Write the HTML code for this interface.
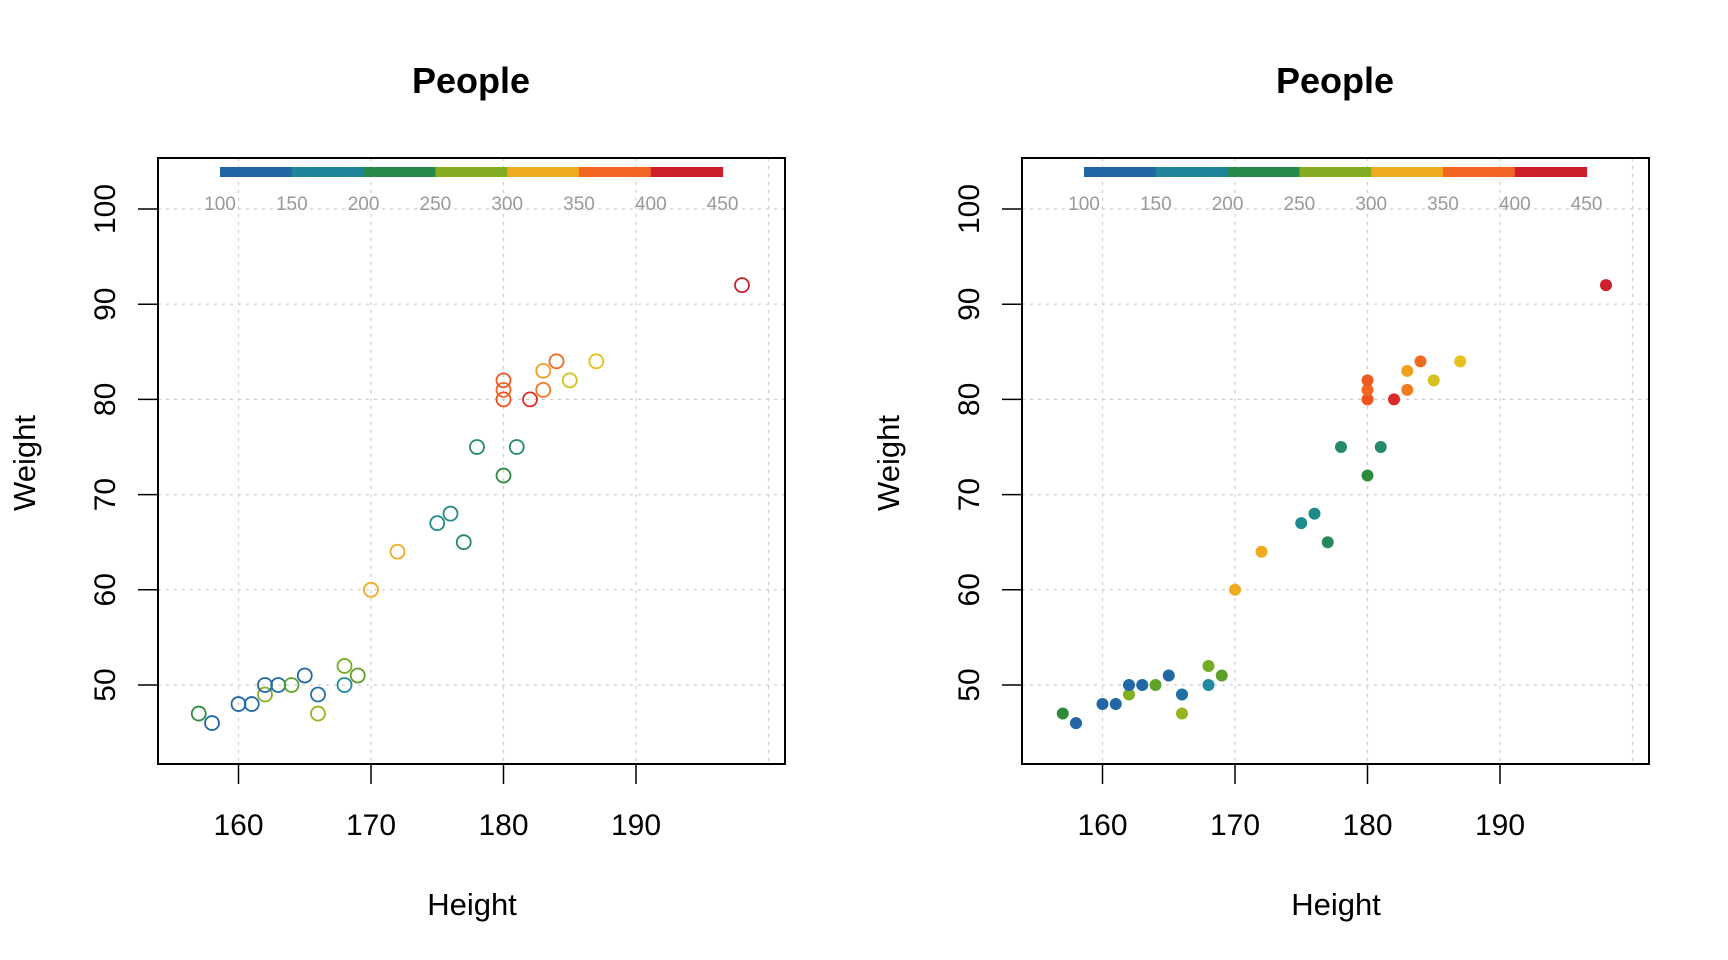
<!DOCTYPE html>
<html><head><meta charset="utf-8"><style>html,body{margin:0;padding:0;background:#fff}svg{display:block}</style></head>
<body>
<svg id="s" width="1728" height="960" xmlns="http://www.w3.org/2000/svg" font-family="Liberation Sans, Arial, sans-serif"></svg>
<script>
const svg=document.getElementById('s');
let out='';
const pts=[[157,47,'#2e8b3a'],[158,46,'#2166a5'],[160,48,'#2166a5'],[161,48,'#2166a5'],[162,49,'#84b023'],[162,50,'#2166a5'],[163,50,'#2166a5'],[164,50,'#5fa32c'],[165,51,'#2166a5'],[166,49,'#2070a5'],[166,47,'#93b51f'],[168,52,'#74ab24'],[168,50,'#1f8aa0'],[169,51,'#5e9e2a'],[170,60,'#eeab1f'],[172,64,'#eeab1f'],[175,67,'#1f8a8a'],[176,68,'#1f8a88'],[177,65,'#268a5a'],[178,75,'#268a6a'],[180,72,'#2e8a3a'],[181,75,'#268a6a'],[180,80,'#f0521f'],[180,81,'#f26522'],[180,82,'#f05a22'],[182,80,'#dc2a26'],[183,81,'#f27a20'],[183,83,'#f0a020'],[184,84,'#f06a20'],[185,82,'#d8c01e'],[187,84,'#e8c01c'],[198,92,'#cc1f2b']];
const bar=['#2166a5','#1f8599','#268a4a','#84ab22','#eeab1f','#f26522','#cc1f2b'];
for(const [off,filled] of [[0,false],[864,true]]){
  const X=v=>off+238.5+(v-160)*13.25, Y=v=>685-(v-50)*9.52;
  out+=`<text x="${off+471}" y="93" font-size="36" font-weight="bold" text-anchor="middle">People</text>`;
  for(let v=160;v<=200;v+=10) out+=`<line x1="${X(v)}" y1="158" x2="${X(v)}" y2="764" stroke="#ccc" stroke-dasharray="3,5" stroke-width="1.2"/>`;
  for(let v=50;v<=100;v+=10) out+=`<line x1="${off+158}" y1="${Y(v)}" x2="${off+785}" y2="${Y(v)}" stroke="#ccc" stroke-dasharray="3,5" stroke-width="1.2"/>`;
  bar.forEach((c,i)=>{out+=`<rect x="${off+220+i*71.8}" y="167" width="72.3" height="10" fill="${c}"/>`;});
  for(let i=0;i<8;i++) out+=`<text x="${off+220+i*71.8}" y="210" font-size="19" fill="#999" text-anchor="middle">${100+i*50}</text>`;
  out+=`<rect x="${off+158}" y="158" width="627" height="606" fill="none" stroke="#000" stroke-width="2"/>`;
  for(let v=160;v<=190;v+=10){out+=`<line x1="${X(v)}" y1="764" x2="${X(v)}" y2="784" stroke="#000" stroke-width="1.5"/><text x="${X(v)}" y="835" font-size="30" text-anchor="middle">${v}</text>`;}
  for(let v=50;v<=100;v+=10){out+=`<line x1="${off+158}" y1="${Y(v)}" x2="${off+138}" y2="${Y(v)}" stroke="#000" stroke-width="1.5"/><text transform="translate(${off+115},${Y(v)}) rotate(-90)" font-size="30" text-anchor="middle">${v}</text>`;}
  out+=`<text x="${off+472}" y="915" font-size="31" text-anchor="middle">Height</text>`;
  out+=`<text transform="translate(${off+35},463) rotate(-90)" font-size="31" text-anchor="middle">Weight</text>`;
  for(const [h,w,c] of pts){
    out+= filled?`<circle cx="${X(h)}" cy="${Y(w)}" r="6" fill="${c}"/>`:`<circle cx="${X(h)}" cy="${Y(w)}" r="7" fill="none" stroke="${c}" stroke-width="1.8"/>`;
  }
}
svg.innerHTML=out;
</script>
</body></html>
